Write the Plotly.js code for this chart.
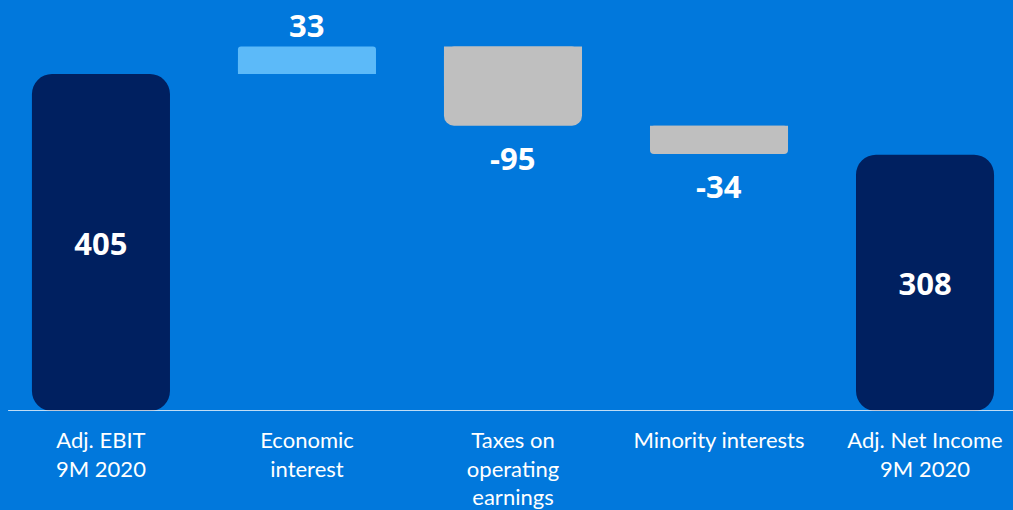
<!DOCTYPE html>
<html>
<head>
<meta charset="utf-8">
<script src="https://cdn.plot.ly/plotly-3.0.1.min.js"></script>
<style>
  html, body { margin: 0; padding: 0; background: #0178DC; }
  #chart { width: 1013px; height: 510px; }
</style>
</head>
<body>
<div id="chart"></div>
<script>
// ---- data ----
const categories = [
  "Adj. EBIT<br>9M 2020",
  "Economic<br>interest",
  "Taxes on<br>operating<br>earnings",
  "Minority interests",
  "Adj. Net Income<br>9M 2020"
];
const values = [405, 33, -95, -34, 308];
const kinds = ["total", "relative", "relative", "relative", "total"];

// ---- styles ----
const colTotal = "#002060";
const colUp = "#5CBAF9";
const colDown = "#BFBFBF";
const bg = "#0178DC";
const radiusFor = [20, 3, 10, 4, 20];

// compute bases
let running = 0;
const bases = [], heights = [];
values.forEach((v, i) => {
  if (kinds[i] === "total") { bases.push(0); heights.push(v); running = v; }
  else { bases.push(running); heights.push(v); running += v; }
});

const traces = [];
const annotations = [];
values.forEach((v, i) => {
  const isTotal = kinds[i] === "total";
  const color = isTotal ? colTotal : (v >= 0 ? colUp : colDown);
  traces.push({
    type: "bar",
    x: [categories[i]],
    y: [heights[i]],
    base: [bases[i]],
    width: 0.67,
    marker: { color: color, cornerradius: radiusFor[i], line: { width: 0 } },
    text: isTotal ? [String(v)] : [""],
    textposition: isTotal ? "inside" : "none",
    insidetextanchor: "middle",
    textfont: { family: "Open Sans, sans-serif", size: 31, color: "#ffffff", weight: 700 },
    hoverinfo: "skip",
    showlegend: false
  });
  if (!isTotal) {
    // square off the end that touches the running total
    traces.push({
      type: "bar",
      x: [categories[i]],
      y: [heights[i] / 2],
      base: [bases[i]],
      width: 0.67,
      marker: { color: color, line: { width: 0 } },
      textposition: "none",
      hoverinfo: "skip",
      showlegend: false
    });
    const end = bases[i] + heights[i];
    annotations.push({
      x: categories[i],
      y: end,
      xref: "x", yref: "y",
      text: "<b>" + String(v) + "</b>",
      showarrow: false,
      yanchor: "middle",
      yshift: v >= 0 ? 22 : -32,
      font: { family: "Open Sans, sans-serif", size: 31, color: "#ffffff" }
    });
  }
});

const layout = {
  width: 1013,
  height: 510,
  paper_bgcolor: bg,
  plot_bgcolor: bg,
  margin: { l: 0, r: 0, t: 0, b: 99 },
  barmode: "overlay",
  xaxis: {
    type: "category",
    categoryorder: "array",
    categoryarray: categories,
    range: [-0.49, 4.427],
    showgrid: false,
    zeroline: false,
    showline: false,
    ticks: "",
    ticklabelstandoff: 14,
    tickfont: { family: "Lato, sans-serif", size: 22, color: "#ffffff" },
    fixedrange: true
  },
  yaxis: {
    range: [0, 494],
    visible: false,
    showgrid: false,
    zeroline: false,
    fixedrange: true
  },
  shapes: [{
    type: "line", xref: "paper", yref: "y",
    x0: 0.008, x1: 1, y0: 0, y1: 0,
    line: { color: "#ffffff", width: 1.5 },
    layer: "above"
  }],
  annotations: annotations
};

Plotly.newPlot("chart", traces, layout, { displayModeBar: false, staticPlot: true });
</script>
</body>
</html>
